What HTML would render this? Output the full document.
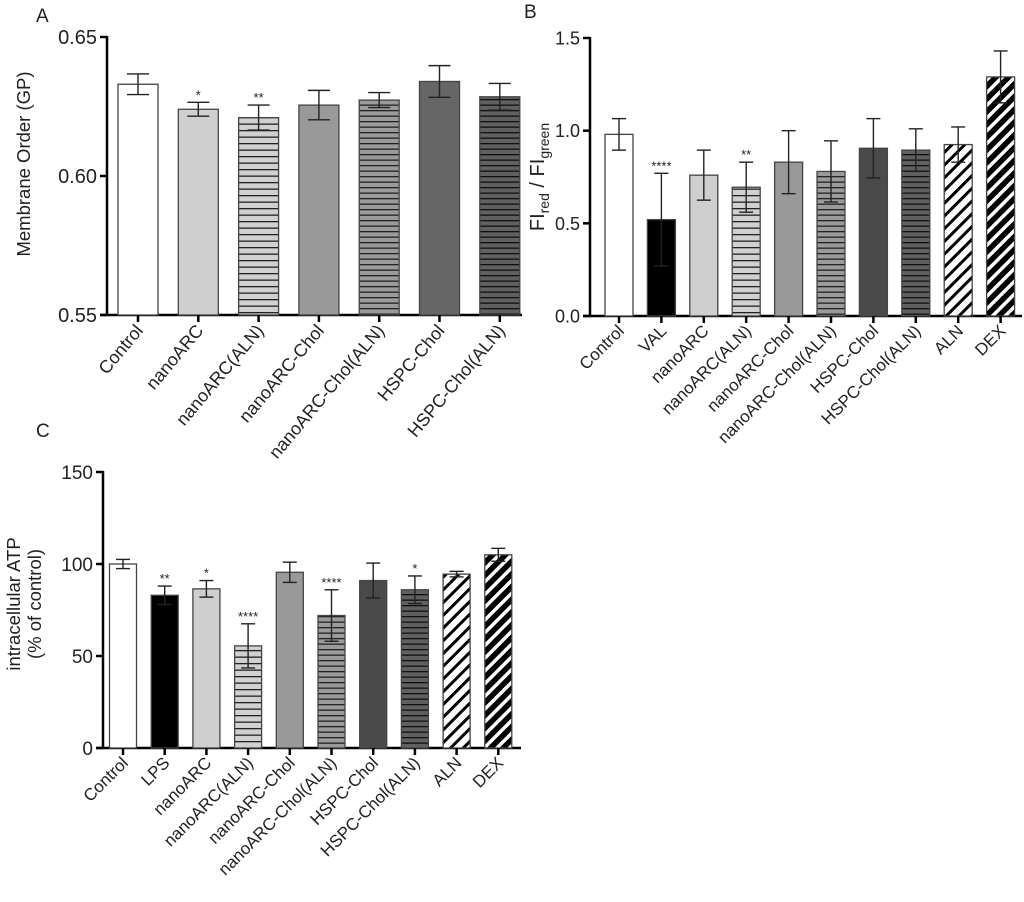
<!DOCTYPE html>
<html><head><meta charset="utf-8"><style>
body{margin:0;background:#fff;}
svg{display:block;font-family:"Liberation Sans",sans-serif;}
</style></head><body>
<svg id="fig" width="1024" height="902" viewBox="0 0 1024 902" xmlns="http://www.w3.org/2000/svg">
<defs>
<pattern id="hl-light" width="6" height="6.5" patternUnits="userSpaceOnUse"><rect width="6" height="6.5" fill="#d0d0d0"/><rect y="0" width="6" height="1.3" fill="#222"/></pattern>
<pattern id="hl-mid" width="6" height="5.5" patternUnits="userSpaceOnUse"><rect width="6" height="5.5" fill="#9a9a9a"/><rect y="0" width="6" height="1.3" fill="#222"/></pattern>
<pattern id="hl-dark" width="6" height="5.5" patternUnits="userSpaceOnUse"><rect width="6" height="5.5" fill="#606060"/><rect y="0" width="6" height="1.3" fill="#111"/></pattern>
<pattern id="diag-white" width="9" height="9" patternUnits="userSpaceOnUse" patternTransform="rotate(45)"><rect width="9" height="9" fill="#fff"/><rect width="3" height="9" fill="#000"/></pattern>
<pattern id="diag-black" width="9" height="9" patternUnits="userSpaceOnUse" patternTransform="rotate(45)"><rect width="9" height="9" fill="#fff"/><rect width="5.5" height="9" fill="#000"/></pattern>
</defs>
<text x="36" y="22" font-size="19" fill="#222">A</text>
<text x="524" y="18" font-size="19" fill="#222">B</text>
<text x="36" y="437" font-size="19" fill="#222">C</text>
<g id="gA"></g>
<g id="gB"></g>
<g id="gC"></g>
</svg>
<script>
// Panel A data
const catsA = ["Control","nanoARC","nanoARC(ALN)","nanoARC-Chol","nanoARC-Chol(ALN)","HSPC-Chol","HSPC-Chol(ALN)"];
const valsA = [0.633,0.624,0.621,0.6255,0.6273,0.634,0.6285];
const errsA = [0.0037,0.0025,0.0045,0.0053,0.0027,0.0057,0.0048];
const sigA = ["","*","**","","","",""];
const ticksA = [0.55,0.60,0.65];
const tickLabelsA = ["0.55","0.60","0.65"];
const fillsA = ["#fff","#cfcfcf","url(#hl-light)","#999","url(#hl-mid)","#666","url(#hl-dark)"];
// Panel B data
const catsB = ["Control","VAL","nanoARC","nanoARC(ALN)","nanoARC-Chol","nanoARC-Chol(ALN)","HSPC-Chol","HSPC-Chol(ALN)","ALN","DEX"];
const valsB = [0.98,0.52,0.76,0.695,0.83,0.78,0.905,0.895,0.925,1.29];
const errsB = [0.085,0.25,0.135,0.135,0.17,0.165,0.16,0.115,0.095,0.14];
const sigB = ["","****","","**","","","","","",""];
const ticksB = [0,0.5,1.0,1.5];
const tickLabelsB = ["0.0","0.5","1.0","1.5"];
const fillsB = ["#fff","#000","#cfcfcf","url(#hl-light)","#999","url(#hl-mid)","#4a4a4a","url(#hl-dark)","url(#diag-white)","url(#diag-black)"];
// Panel C data
const catsC = ["Control","LPS","nanoARC","nanoARC(ALN)","nanoARC-Chol","nanoARC-Chol(ALN)","HSPC-Chol","HSPC-Chol(ALN)","ALN","DEX"];
const valsC = [100,83,86.5,55.5,95.5,72,91,86,94.5,105];
const errsC = [2.5,5,4.5,12,5.5,14,9.5,7.5,1.5,3.5];
const sigC = ["","**","*","****","","****","","*","",""];
const ticksC = [0,50,100,150];
const tickLabelsC = ["0","50","100","150"];
const fillsC = fillsB;

const NS="http://www.w3.org/2000/svg";
function mk(parent,tag,attrs){const e=document.createElementNS(NS,tag);for(const k in attrs)e.setAttribute(k,attrs[k]);parent.appendChild(e);return e;}

function drawPanel(g,cfg){
  const yS=v=>cfg.y0+(v-cfg.min)/(cfg.max-cfg.min)*(cfg.y1-cfg.y0);
  const xS=i=>cfg.firstX+i*cfg.step;
  const ya=mk(g,"line",{x1:cfg.ax,x2:cfg.ax,y1:yS(cfg.max)-1,y2:cfg.y0+1,stroke:"#000","stroke-width":2.5});
  
  
  const xa=mk(g,"line",{x1:cfg.ax-7,x2:cfg.axEnd,y1:cfg.y0,y2:cfg.y0,stroke:"#000","stroke-width":2.5});
  
  
  cfg.ticks.forEach((t,i)=>{
    mk(g,"line",{x1:cfg.ax-7,x2:cfg.ax,y1:yS(t),y2:yS(t),stroke:"#000","stroke-width":2.5});
    const tl=mk(g,"text",{x:cfg.ax-10,y:yS(t)+cfg.tickFs*0.36,"font-size":cfg.tickFs,"text-anchor":"end",fill:"#222"});
    tl.textContent=cfg.tickLabels[i];
    
    
  });
  const yt=mk(g,"text",{transform:`translate(${cfg.titleX},${cfg.titleY}) rotate(-90)`,"font-size":cfg.titleFs,"text-anchor":"middle",fill:"#222"});
  
  
  cfg.title(yt);
  cfg.cats.forEach((c,i)=>{
    const x=xS(i),v=cfg.vals[i],e=cfg.errs[i];
    const top=yS(v);
    const r=mk(g,"rect",{x:x-cfg.bw/2,y:top,width:cfg.bw,height:cfg.y0-top,fill:cfg.fills[i],stroke:"#444","stroke-width":1.3});
    
    
    const et=yS(v+e),eb=yS(v-e);
    const eg=mk(g,"g",{stroke:"#222","stroke-width":1.4});
    
    
    mk(eg,"line",{x1:x,x2:x,y1:et,y2:eb});
    mk(eg,"line",{x1:x-cfg.cap,x2:x+cfg.cap,y1:et,y2:et});
    mk(eg,"line",{x1:x-cfg.cap,x2:x+cfg.cap,y1:eb,y2:eb});
    if(cfg.sig[i]){
      const s=mk(g,"text",{x:x,y:et-3,"font-size":13,"text-anchor":"middle",fill:"#222"});
      s.textContent=cfg.sig[i];
      
      
    }
    mk(g,"line",{x1:x,x2:x,y1:cfg.y0,y2:cfg.y0+7,stroke:"#000","stroke-width":2.5});
    const lb=mk(g,"text",{transform:`translate(${x+6},${cfg.y0+16}) rotate(${cfg.rot})`,"font-size":cfg.labFs,"text-anchor":"end",fill:"#222"});
    lb.textContent=c;
    
    
  });
}

drawPanel(document.getElementById('gA'),{cats:catsA,vals:valsA,errs:errsA,sig:sigA,fills:fillsA,ticks:ticksA,tickLabels:tickLabelsA,
  min:0.55,max:0.65,y0:315,y1:37,ax:107,axEnd:522,firstX:138,step:60.3,bw:40,cap:11,tickFs:20,titleFs:18.5,labFs:18,rot:-50,titleX:30,titleY:164,
  title:t=>{t.textContent="Membrane Order (GP)";}});
drawPanel(document.getElementById('gB'),{cats:catsB,vals:valsB,errs:errsB,sig:sigB,fills:fillsB,ticks:ticksB,tickLabels:tickLabelsB,
  min:0,max:1.5,y0:316,y1:38,ax:590,axEnd:1022,firstX:619,step:42.4,bw:28,cap:7,tickFs:18,titleFs:20,labFs:17,rot:-45,titleX:544,titleY:177,
  title:t=>{t.innerHTML='FI<tspan font-size="14" dy="5">red</tspan><tspan dy="-5"> / FI</tspan><tspan font-size="14" dy="5">green</tspan>';}});
drawPanel(document.getElementById('gC'),{cats:catsC,vals:valsC,errs:errsC,sig:sigC,fills:fillsC,ticks:ticksC,tickLabels:tickLabelsC,
  min:0,max:150,y0:748,y1:472,ax:103,axEnd:521,firstX:123,step:41.7,bw:27,cap:7,tickFs:19,titleFs:18.5,labFs:17,rot:-45,titleX:20,titleY:604,
  title:t=>{t.innerHTML='<tspan x="0" dy="0">intracellular ATP</tspan><tspan x="0" dy="21">(% of control)</tspan>';}});
</script>
</body></html>
